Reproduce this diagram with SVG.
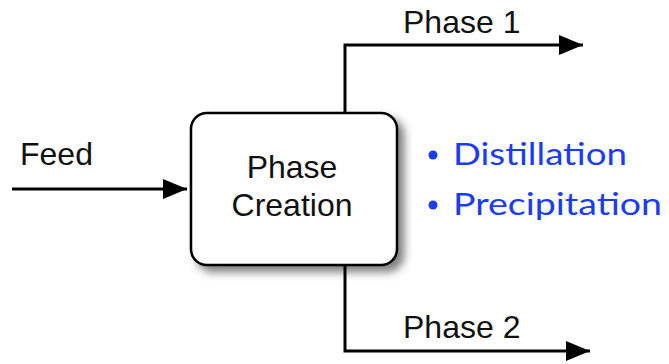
<svg xmlns="http://www.w3.org/2000/svg" width="669" height="364" viewBox="0 0 669 364">
  <style>
    .lbl { font-family: "Liberation Sans", Arial, sans-serif; font-size: 32px; fill: #111; }
    .conn { fill: none; stroke: #000; stroke-width: 3; }
    .item { font-family: Lato, "DejaVu Sans", sans-serif; font-size: 31px; fill: #1a3cf5; }
  </style>
  <defs>
    <marker id="arrow" viewBox="0 0 12 10" refX="12" refY="5" markerUnits="userSpaceOnUse" markerWidth="24" markerHeight="20" orient="auto">
      <path d="M0,0 L12,5 L0,10 z" fill="#000"/>
    </marker>
    <filter id="shadow" x="-20%" y="-20%" width="150%" height="150%">
      <feDropShadow dx="6" dy="6" stdDeviation="4.5" flood-color="#000" flood-opacity="0.5"/>
    </filter>
  </defs>

  <rect width="669" height="364" fill="#fff"/>

  <g id="connectors">
    <path class="conn" d="M12,189 L187,189" marker-end="url(#arrow)"/>
    <path class="conn" d="M345,113 L345,45 L583,45" marker-end="url(#arrow)"/>
    <path class="conn" d="M345,265 L345,351 L590,351" marker-end="url(#arrow)"/>
  </g>

  <g id="phase-creation">
    <rect x="191" y="113" width="206" height="152" rx="16" ry="16" fill="#fff" stroke="#000" stroke-width="2.5" filter="url(#shadow)"/>
    <text class="lbl" x="292" y="178" text-anchor="middle">Phase</text>
    <text class="lbl" x="292" y="216" text-anchor="middle">Creation</text>
  </g>

  <g id="feed">
    <text class="lbl" x="20" y="165">Feed</text>
  </g>

  <g id="phase-1">
    <text class="lbl" x="403" y="33">Phase 1</text>
  </g>

  <g id="phase-2">
    <text class="lbl" x="403" y="338">Phase 2</text>
  </g>

  <g id="methods">
    <circle cx="433" cy="155" r="4.5" fill="#1a3cf5"/>
    <text class="item" x="453" y="165" textLength="174" lengthAdjust="spacingAndGlyphs">Distillation</text>
    <circle cx="433" cy="205" r="4.5" fill="#1a3cf5"/>
    <text class="item" x="453" y="215" textLength="209" lengthAdjust="spacingAndGlyphs">Precipitation</text>
  </g>
</svg>
